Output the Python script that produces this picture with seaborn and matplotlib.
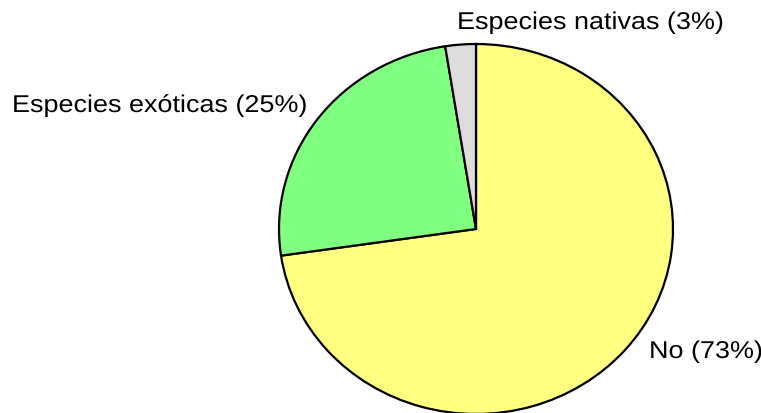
import matplotlib
matplotlib.use("Agg")
import matplotlib.pyplot as plt
from matplotlib.patheffects import AbstractPathEffect
from matplotlib.transforms import Affine2D
import seaborn as sns

sns.set_style("white")
plt.rcParams['font.family'] = ['Liberation Sans', 'DejaVu Sans']

categories = ["No", "Especies exóticas", "Especies nativas"]
values = [72.7, 24.8, 2.5]
pct_labels = ["73%", "25%", "3%"]
colors = ["#FFFF80", "#80FF80", "#DDDDDD"]


class HStretch(AbstractPathEffect):
    def __init__(self, sx):
        super().__init__()
        self.sx = sx

    def draw_path(self, renderer, gc, tpath, affine, rgbFace=None):
        renderer.draw_path(gc, tpath, Affine2D().scale(self.sx, 1.0) + affine, rgbFace)


W, H = 761, 413
fig = plt.figure(figsize=(W / 100, H / 100), dpi=100)
cx, cy, rx, ry = 476, 229, 197, 185
ax = fig.add_axes([(cx - rx) / W, (H - (cy + ry)) / H, 2 * rx / W, 2 * ry / H])
ax.pie(values, colors=colors, startangle=90, counterclock=False,
       wedgeprops=dict(edgecolor="black", linewidth=1.6))
ax.set_aspect('auto')
ax.set_xlim(-1, 1)
ax.set_ylim(-1, 1)
ax.axis('off')

# label positions (pixels: left x, baseline y)
label_pos = [(649, 358), (12, 112), (457, 29)]
for cat, pct, (px, py) in zip(categories, pct_labels, label_pos):
    fig.text(px / W, 1 - py / H, f"{cat} ({pct})", ha="left", va="baseline",
             fontsize=17.5, color="black", path_effects=[HStretch(1.11)])

fig.savefig("out.png", dpi=100)
